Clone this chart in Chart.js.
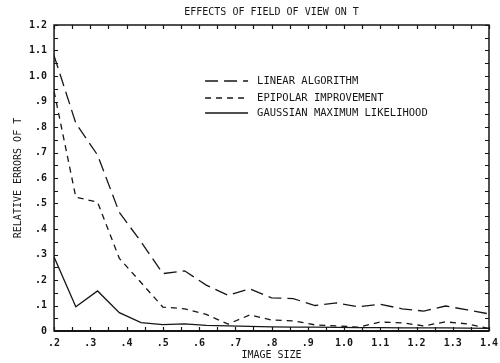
<!DOCTYPE html>
<html>
<head>
<meta charset="utf-8">
<script src="https://cdn.jsdelivr.net/npm/chart.js@4/dist/chart.umd.min.js"></script>
<style>
  html, body { margin: 0; padding: 0; background: #fff; }
  canvas { display: block; }
</style>
</head>
<body>
<canvas id="c" width="500" height="363"></canvas>
<script>
// Image size (x) at which each trial was run
const imageSize = [0.20, 0.26, 0.32, 0.38, 0.44, 0.50, 0.56, 0.62, 0.68, 0.74, 0.80,
                   0.86, 0.92, 0.98, 1.04, 1.10, 1.16, 1.22, 1.28, 1.34, 1.40];

// Relative errors of T for each method
const linearAlgorithm = [1.08, 0.815, 0.69, 0.465, 0.35, 0.225, 0.236, 0.18, 0.14, 0.165, 0.13,
                         0.127, 0.10, 0.11, 0.095, 0.105, 0.087, 0.078, 0.098, 0.083, 0.067];
const epipolarImprovement = [0.94, 0.525, 0.505, 0.285, 0.19, 0.094, 0.087, 0.065, 0.027, 0.063, 0.043,
                             0.04, 0.024, 0.02, 0.015, 0.035, 0.032, 0.02, 0.036, 0.028, 0.01];
const gaussianML = [0.29, 0.095, 0.157, 0.072, 0.033, 0.025, 0.028, 0.022, 0.02, 0.018, 0.016,
                    0.015, 0.015, 0.014, 0.013, 0.013, 0.012, 0.012, 0.012, 0.011, 0.01];

const seriesNames = ['LINEAR ALGORITHM', 'EPIPOLAR IMPROVEMENT', 'GAUSSIAN MAXIMUM LIKELIHOOD'];

const INK = '#161616';
const MONO = '"DejaVu Sans Mono", "Liberation Mono", monospace';

function toPoints(ys) {
  return imageSize.map((x, i) => ({ x: x, y: ys[i] }));
}

// Plotter-style numbers: ".5", "1.0", "0"
function plotterLabel(v) {
  const r = Math.round(v * 10) / 10;
  if (r === 0) return '0';
  const s = r.toFixed(1);
  return s.startsWith('0') ? s.slice(1) : s;
}

// Frame, inward tick marks on all four sides and the in-plot key
const plotFrame = {
  id: 'plotFrame',
  afterDatasetsDraw(chart) {
    const { ctx, chartArea: a, scales } = chart;
    const xs = scales.x, ys = scales.y;
    ctx.save();
    ctx.strokeStyle = INK;
    ctx.setLineDash([]);
    ctx.lineWidth = 1.5;
    ctx.strokeRect(a.left, a.top, a.right - a.left, a.bottom - a.top);
    ctx.lineWidth = 2;
    ctx.beginPath();
    ctx.moveTo(a.left, a.bottom);
    ctx.lineTo(a.right, a.bottom);
    ctx.stroke();

    ctx.lineWidth = 1.2;
    const len = 4;
    ctx.beginPath();
    for (let k = 0; k <= 24; k++) {
      const px = Math.round(xs.getPixelForValue(xs.min + k * 0.05)) + 0.5;
      ctx.moveTo(px, a.bottom); ctx.lineTo(px, a.bottom - len);
      ctx.moveTo(px, a.top); ctx.lineTo(px, a.top + len);
    }
    for (let k = 0; k <= 24; k++) {
      const py = Math.round(ys.getPixelForValue(ys.min + k * 0.05)) + 0.5;
      ctx.moveTo(a.left, py); ctx.lineTo(a.left + len, py);
      ctx.moveTo(a.right, py); ctx.lineTo(a.right - len, py);
    }
    ctx.stroke();

    // key
    const x0 = a.left + 151, x1 = a.left + 194, tx = a.left + 203;
    const rows = [a.top + 56, a.top + 73, a.top + 88];
    ctx.font = '10.5px ' + MONO;
    ctx.fillStyle = INK;
    ctx.textBaseline = 'middle';
    chart.data.datasets.forEach((ds, i) => {
      ctx.lineWidth = ds.borderWidth;
      ctx.setLineDash(ds.borderDash || []);
      ctx.beginPath();
      ctx.moveTo(x0, rows[i]);
      ctx.lineTo(x1, rows[i]);
      ctx.stroke();
      ctx.setLineDash([]);
      ctx.fillText(ds.label, tx, rows[i]);
    });
    ctx.restore();
  }
};

new Chart(document.getElementById('c'), {
  type: 'line',
  data: {
    datasets: [
      { label: seriesNames[0], data: toPoints(linearAlgorithm), borderColor: INK,
        borderWidth: 1.3, borderDash: [13, 6], pointRadius: 0, tension: 0, fill: false },
      { label: seriesNames[1], data: toPoints(epipolarImprovement), borderColor: INK,
        borderWidth: 1.3, borderDash: [6, 5], pointRadius: 0, tension: 0, fill: false },
      { label: seriesNames[2], data: toPoints(gaussianML), borderColor: INK,
        borderWidth: 1.3, pointRadius: 0, tension: 0, fill: false }
    ]
  },
  options: {
    responsive: false,
    animation: false,
    devicePixelRatio: 1,
    layout: { padding: { left: 12, right: 0, top: 0, bottom: 2 } },
    plugins: {
      legend: { display: false },
      tooltip: { enabled: false },
      title: {
        display: true,
        fullSize: false,
        text: 'EFFECTS OF FIELD OF VIEW ON T',
        color: INK,
        font: { family: MONO, size: 10, weight: 'normal' },
        padding: { top: 6, bottom: 7 }
      }
    },
    scales: {
      x: {
        type: 'linear',
        min: 0.2, max: 1.4,
        afterFit: s => { s.paddingRight = 11; },
        grid: { display: false, drawTicks: false, tickLength: 0 },
        border: { display: false },
        ticks: {
          stepSize: 0.1, color: INK, padding: 6, maxRotation: 0,
          font: { family: MONO, size: 10, weight: 'bold' },
          callback: v => plotterLabel(v)
        },
        title: {
          display: true, text: 'IMAGE SIZE', color: INK,
          font: { family: MONO, size: 10 },
          padding: { top: -6, bottom: 0 }
        }
      },
      y: {
        min: 0, max: 1.2,
        grid: { display: false, drawTicks: false, tickLength: 0 },
        border: { display: false },
        ticks: {
          stepSize: 0.1, color: INK, padding: 7,
          font: { family: MONO, size: 10, weight: 'bold' },
          callback: v => plotterLabel(v)
        },
        title: {
          display: true, text: 'RELATIVE ERRORS OF T', color: INK,
          font: { family: MONO, size: 10 },
          padding: { top: 0, bottom: -2 }
        }
      }
    }
  },
  plugins: [plotFrame]
});
</script>
</body>
</html>
